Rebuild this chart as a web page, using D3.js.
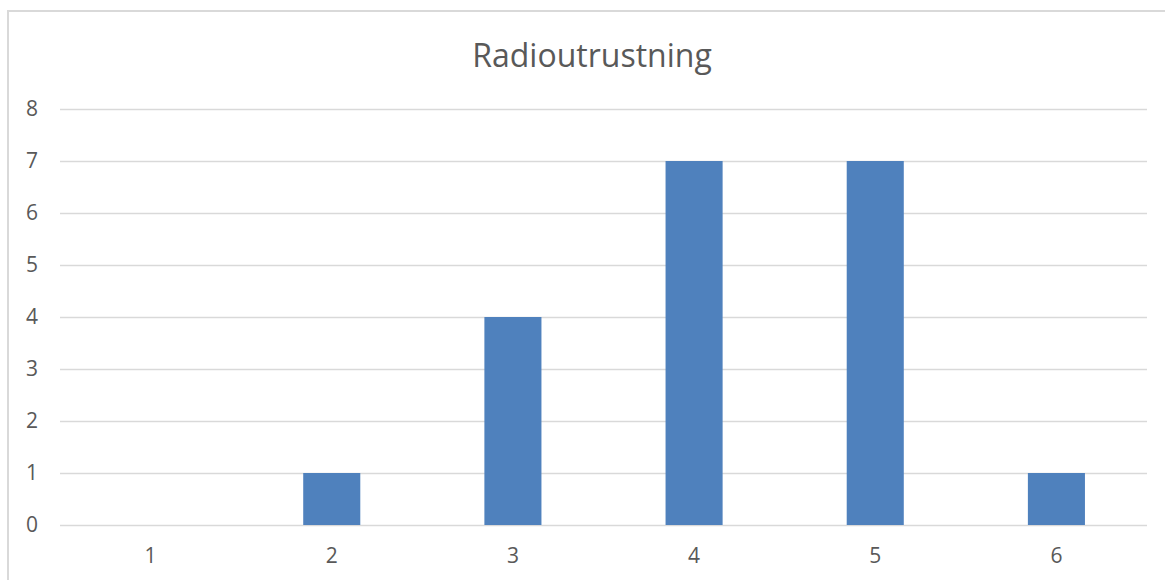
<!DOCTYPE html>
<html>
<head>
<meta charset="utf-8">
<script src="https://cdn.jsdelivr.net/npm/d3@7/dist/d3.min.js"></script>
<style>
  html, body { margin: 0; padding: 0; background: #fff; }
  svg { display: block; }
  text { font-family: "Open Sans", "Liberation Sans", sans-serif; fill: #595959; }
</style>
</head>
<body>
<svg id="chart" width="1165" height="580"></svg>
<script>
// Chart data
const title = "Radioutrustning";
const categories = ["1", "2", "3", "4", "5", "6"];
const values = [0, 1, 4, 7, 7, 1];
const yTicks = [0, 1, 2, 3, 4, 5, 6, 7, 8];

const W = 1165, H = 580;
const plot = { left: 60, right: 1147, top: 109, bottom: 525 };

const svg = d3.select("#chart");

// Chart area frame
svg.append("rect")
  .attr("x", 8).attr("y", 11)
  .attr("width", W + 20).attr("height", H + 20)
  .attr("fill", "#fff")
  .attr("stroke", "#d9d9d9")
  .attr("stroke-width", 2);

const x = d3.scaleBand()
  .domain(categories)
  .range([plot.left, plot.right])
  .paddingInner(0.685)
  .paddingOuter(0.3425);

const y = d3.scaleLinear()
  .domain([0, 8])
  .range([plot.bottom, plot.top]);

// Horizontal gridlines
svg.append("g")
  .selectAll("line")
  .data(yTicks)
  .join("line")
  .attr("x1", plot.left).attr("x2", plot.right)
  .attr("y1", d => Math.round(y(d)) + 0.5)
  .attr("y2", d => Math.round(y(d)) + 0.5)
  .attr("stroke", "#d9d9d9")
  .attr("stroke-width", 1.3);

// Y axis labels
const yAxis = d3.axisLeft(y).tickValues(yTicks).tickSize(0).tickPadding(0);
svg.append("g")
  .attr("transform", `translate(${38},0)`)
  .call(yAxis)
  .call(g => g.select(".domain").remove())
  .call(g => g.selectAll("text")
    .attr("font-family", "'Open Sans', 'Liberation Sans', sans-serif")
    .attr("font-size", 21)
    .attr("fill", "#595959"));

// Bars
svg.append("g")
  .selectAll("rect")
  .data(values)
  .join("rect")
  .attr("x", (d, i) => x(categories[i]))
  .attr("width", x.bandwidth())
  .attr("y", d => y(d))
  .attr("height", d => y(0) - y(d))
  .attr("fill", "#4f81bd");

// X axis labels
const xAxis = d3.axisBottom(x).tickSize(0).tickPadding(0);
svg.append("g")
  .attr("transform", `translate(0,${548})`)
  .call(xAxis)
  .call(g => g.select(".domain").remove())
  .call(g => g.selectAll("text")
    .attr("font-family", "'Open Sans', 'Liberation Sans', sans-serif")
    .attr("font-size", 21)
    .attr("fill", "#595959"));

// Title
svg.append("text")
  .attr("x", 592)
  .attr("y", 67)
  .attr("text-anchor", "middle")
  .attr("font-size", 32)
  .text(title);
</script>
</body>
</html>
